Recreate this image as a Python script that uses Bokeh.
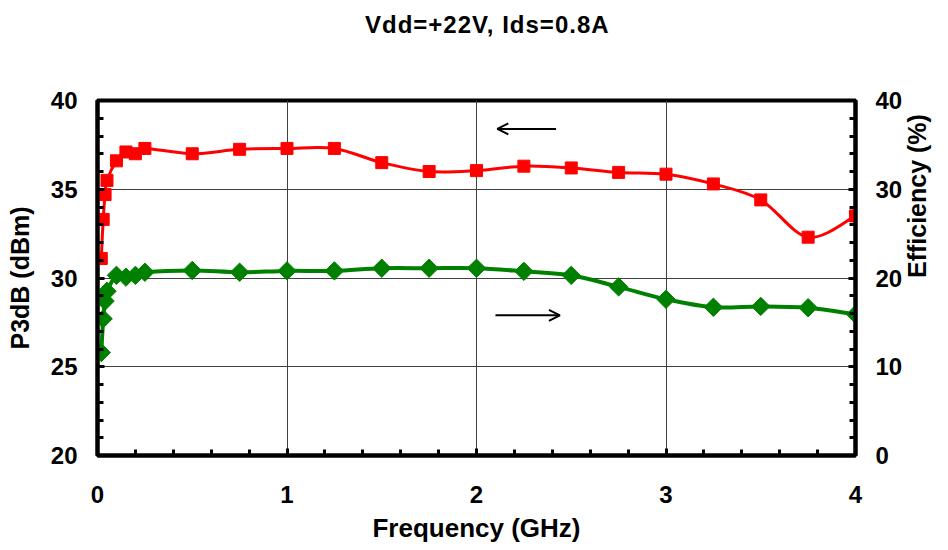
import math
from bokeh.plotting import figure
from bokeh.layouts import column
from bokeh.models import (Range1d, LinearAxis, SingleIntervalTicker, Arrow,
                          OpenHead, ColumnDataSource, Div)
from bokeh.embed import file_html
from bokeh.resources import INLINE

# ---- data ----
freq_ghz = [0.02, 0.03, 0.04, 0.05, 0.1, 0.15, 0.2, 0.25, 0.5, 0.75, 1.0, 1.25,
            1.5, 1.75, 2.0, 2.25, 2.5, 2.75, 3.0, 3.25, 3.5, 3.75, 4.0]
p3db_dbm = [31.1, 33.3, 34.7, 35.5, 36.6, 37.1, 37.0, 37.3, 37.0, 37.25, 37.3, 37.3,
            36.5, 36.0, 36.05, 36.3, 36.2, 35.95, 35.85, 35.3, 34.4, 32.3, 33.5]
efficiency_pct = [11.6, 15.4, 17.4, 18.5, 20.3, 20.1, 20.3, 20.65, 20.85, 20.65, 20.8, 20.8,
                  21.1, 21.1, 21.1, 20.75, 20.3, 19.0, 17.6, 16.7, 16.8, 16.65, 15.9]

title_text = "Vdd=+22V, Ids=0.8A"
x_label = "Frequency (GHz)"
y_label = "P3dB (dBm)"
y2_label = "Efficiency (%)"

FONT = "Liberation Sans"


def bezier_segments(xs, ys, tension=6.0):
    n = len(xs)
    d = dict(x0=[], y0=[], x1=[], y1=[], cx0=[], cy0=[], cx1=[], cy1=[])
    for i in range(n - 1):
        a = i - 1 if i > 0 else i
        b = i + 2 if i + 2 < n else i + 1
        d["x0"].append(xs[i]); d["y0"].append(ys[i])
        d["x1"].append(xs[i + 1]); d["y1"].append(ys[i + 1])
        d["cx0"].append(xs[i] + (xs[i + 1] - xs[a]) / tension)
        d["cy0"].append(ys[i] + (ys[i + 1] - ys[a]) / tension)
        d["cx1"].append(xs[i + 1] - (xs[b] - xs[i]) / tension)
        d["cy1"].append(ys[i + 1] - (ys[b] - ys[i]) / tension)
    return ColumnDataSource(d)


title_div = Div(
    text=('<div style="font-family:\'Liberation Sans\';font-weight:bold;font-size:24px;'
          'letter-spacing:1px;color:black;white-space:nowrap;padding-top:8px;'
          'padding-left:365px;">' + title_text + '</div>'),
    width=948, height=46, margin=0)

p = figure(width=948, height=504,
           x_range=Range1d(0, 4), y_range=Range1d(20, 40),
           output_backend="svg", toolbar_location=None,
           min_border_left=97, min_border_right=93,
           min_border_top=54, min_border_bottom=95,
           background_fill_color="white", border_fill_color="white", margin=0)
p.extra_y_ranges = {"eff": Range1d(0, 40)}

p.outline_line_color = "black"
p.outline_line_width = 4

# axes
p.xaxis.ticker = SingleIntervalTicker(interval=1, num_minor_ticks=5)
p.yaxis.ticker = SingleIntervalTicker(interval=5, num_minor_ticks=5)
right = LinearAxis(y_range_name="eff",
                   ticker=SingleIntervalTicker(interval=10, num_minor_ticks=5))
p.add_layout(right, "right")

for ax in [p.xaxis[0], p.yaxis[0], right]:
    ax.axis_line_width = 4
    ax.axis_line_color = "black"
    ax.major_tick_in = 7
    ax.major_tick_out = 0
    ax.minor_tick_in = 6
    ax.minor_tick_out = 0
    ax.major_tick_line_width = 3
    ax.minor_tick_line_width = 3
    ax.major_tick_line_color = "black"
    ax.minor_tick_line_color = "black"
    ax.major_label_text_font = FONT
    ax.major_label_text_font_style = "bold"
    ax.major_label_text_font_size = "24px"
    ax.major_label_text_color = "black"
    ax.axis_label_text_font = FONT
    ax.axis_label_text_font_style = "bold"
    ax.axis_label_text_font_size = "25px"
    ax.axis_label_text_color = "black"

p.xaxis.axis_label = x_label
p.xaxis.axis_label_text_font_size = "26px"
p.xaxis.major_label_standoff = 30
p.xaxis.axis_label_standoff = 7
p.yaxis[0].axis_label = y_label
p.yaxis[0].major_label_standoff = 20
p.yaxis[0].axis_label_standoff = 14
right.axis_label = y2_label
right.major_label_standoff = 20
right.axis_label_standoff = 12
right.axis_label_orientation = math.pi / 2

p.xgrid.grid_line_color = "#404040"
p.xgrid.grid_line_width = 1
p.ygrid.grid_line_color = "#404040"
p.ygrid.grid_line_width = 1

# P3dB series (left axis)
p.bezier(x0="x0", y0="y0", x1="x1", y1="y1", cx0="cx0", cy0="cy0", cx1="cx1", cy1="cy1",
         source=bezier_segments(freq_ghz, p3db_dbm), line_color="#FF0000", line_width=3)
p.scatter(freq_ghz, p3db_dbm, marker="square", size=12,
          fill_color="#FF0000", line_color="#FF0000")

# Efficiency series (right axis)
p.bezier(x0="x0", y0="y0", x1="x1", y1="y1", cx0="cx0", cy0="cy0", cx1="cx1", cy1="cy1",
         source=bezier_segments(freq_ghz, efficiency_pct), y_range_name="eff",
         line_color="#008000", line_width=4)
p.scatter(freq_ghz, efficiency_pct, marker="square", size=13, angle=math.pi / 4,
          fill_color="#008000", line_color="#008000", y_range_name="eff")

# direction arrows
p.add_layout(Arrow(end=OpenHead(size=11, line_width=2, line_color="black"),
                   x_start=2.42, y_start=38.4, x_end=2.11, y_end=38.4,
                   line_width=2, line_color="black"))
p.add_layout(Arrow(end=OpenHead(size=11, line_width=2, line_color="black"),
                   x_start=2.10, y_start=27.9, x_end=2.44, y_end=27.9,
                   line_width=2, line_color="black"))

layout = column(title_div, p, spacing=0, margin=0)
open("out.html", "w").write(file_html(layout, INLINE))
